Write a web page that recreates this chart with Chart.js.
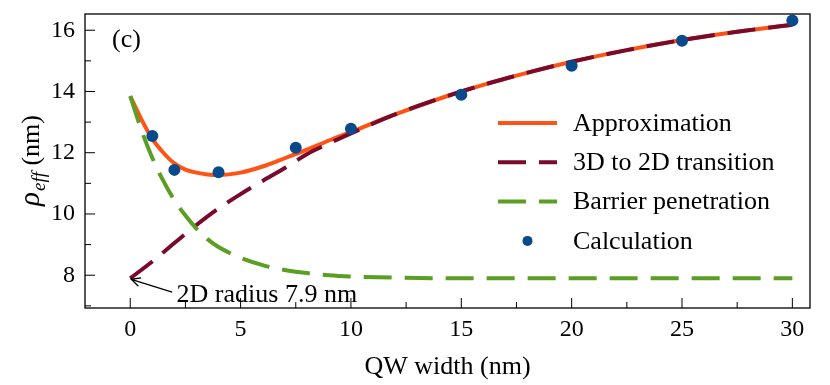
<!DOCTYPE html>
<html>
<head>
<meta charset="utf-8">
<style>
  html, body { margin: 0; padding: 0; background: #fff; }
</style>
<script src="https://cdn.jsdelivr.net/npm/chart.js@4/dist/chart.umd.min.js"></script>
</head>
<body>
<canvas id="grafico" width="830" height="385"></canvas>
<script>
// valores
const approxX = [0, 0.5, 1, 1.5, 2, 2.5, 3, 3.5, 4, 5, 6, 7, 8, 9, 10, 12, 15, 17.5, 20, 22.5, 25, 27.5, 30];
const approxY = [13.85, 13.1, 12.45, 12.0, 11.65, 11.45, 11.35, 11.29, 11.27, 11.35, 11.55, 11.82, 12.1, 12.4, 12.68, 13.25, 14.0, 14.52, 14.97, 15.35, 15.68, 15.95, 16.18];

const transX = [0, 1, 2, 3, 4, 5, 6, 7, 8, 9, 10, 12, 15, 17.5, 20, 22.5, 25, 27.5, 30];
const transY = [7.9, 8.45, 9.05, 9.64, 10.18, 10.65, 11.08, 11.5, 11.95, 12.3, 12.63, 13.25, 14.0, 14.52, 14.97, 15.35, 15.68, 15.95, 16.18];

const barrX = [0, 0.5, 1, 1.5, 2, 2.5, 3, 3.5, 4, 5, 6, 7, 8, 9, 10, 12, 15, 20, 25, 30];
const barrY = [13.85, 12.75, 11.83, 11.08, 10.45, 9.95, 9.52, 9.18, 8.92, 8.57, 8.33, 8.17, 8.07, 8.0, 7.96, 7.92, 7.9, 7.9, 7.9, 7.9];

const calcX = [1, 2, 4, 7.5, 10, 15, 20, 25, 30];
const calcY = [12.55, 11.44, 11.36, 12.16, 12.78, 13.89, 14.84, 15.66, 16.32];

const xMajor = [0, 5, 10, 15, 20, 25, 30];
const xMinor = [2.5, 7.5, 12.5, 17.5, 22.5, 27.5];
const yMajor = [8, 10, 12, 14, 16];
const yMinor = [7, 9, 11, 13, 15];

const cores = { approx: '#ff5316', trans: '#7a0a2b', barr: '#5b9e24', calc: '#0a4a8b' };
const traco = [28, 13];
const fonte = 'Liberation Serif';
const tamTexto = 26;
const tamTick = 24;

const pares = (xs, ys) => xs.map((v, i) => ({ x: v, y: ys[i] }));

const decoracao = {
    id: 'decoracao',
    afterDraw(chart) {
        const { ctx, chartArea: a, scales: { x, y } } = chart;
        ctx.save();

        // moldura
        ctx.strokeStyle = '#000';
        ctx.lineWidth = 1.3;
        ctx.strokeRect(a.left, a.top, a.right - a.left, a.bottom - a.top);

        // ticks para dentro
        ctx.lineWidth = 1;
        ctx.beginPath();
        xMajor.forEach(v => { const p = x.getPixelForValue(v); ctx.moveTo(p, a.bottom); ctx.lineTo(p, a.bottom - 10); });
        xMinor.forEach(v => { const p = x.getPixelForValue(v); ctx.moveTo(p, a.bottom); ctx.lineTo(p, a.bottom - 6); });
        yMajor.forEach(v => { const p = y.getPixelForValue(v); ctx.moveTo(a.left, p); ctx.lineTo(a.left + 10, p); });
        yMinor.forEach(v => { const p = y.getPixelForValue(v); ctx.moveTo(a.left, p); ctx.lineTo(a.left + 6, p); });
        ctx.stroke();

        ctx.fillStyle = '#000';
        ctx.textBaseline = 'alphabetic';
        ctx.textAlign = 'left';
        ctx.font = tamTexto + 'px "' + fonte + '"';
        ctx.fillText('(c)', a.left + 27, a.top + 33);

        // anotação com seta
        const tx = x.getPixelForValue(0), ty = y.getPixelForValue(7.9);
        ctx.fillText('2D radius 7.9 nm', x.getPixelForValue(2.1), y.getPixelForValue(7.12));
        const sx = x.getPixelForValue(1.9), sy = y.getPixelForValue(7.45);
        ctx.beginPath();
        ctx.moveTo(sx, sy);
        ctx.lineTo(tx + 1, ty + 1);
        const ang = Math.atan2(sy - ty, sx - tx);
        ctx.moveTo(tx + 1 + 10 * Math.cos(ang - 0.45), ty + 1 + 10 * Math.sin(ang - 0.45));
        ctx.lineTo(tx + 1, ty + 1);
        ctx.lineTo(tx + 1 + 10 * Math.cos(ang + 0.45), ty + 1 + 10 * Math.sin(ang + 0.45));
        ctx.lineWidth = 1.3;
        ctx.stroke();

        // legenda
        const itens = [
            { t: 'Approximation', c: cores.approx, d: [] },
            { t: '3D to 2D transition', c: cores.trans, d: traco },
            { t: 'Barrier penetration', c: cores.barr, d: traco },
            { t: 'Calculation', c: cores.calc, ponto: true }
        ];
        const lx0 = a.left + 413, lx1 = a.left + 472, txL = a.left + 488;
        ctx.textBaseline = 'middle';
        itens.forEach((it, i) => {
            const ly = a.top + 109 + i * 39.3;
            if (it.ponto) {
                ctx.fillStyle = it.c;
                ctx.beginPath();
                ctx.arc((lx0 + lx1) / 2, ly, 5, 0, Math.PI * 2);
                ctx.fill();
            } else {
                ctx.strokeStyle = it.c;
                ctx.lineWidth = 4;
                ctx.setLineDash(it.d);
                ctx.beginPath();
                ctx.moveTo(lx0, ly);
                ctx.lineTo(lx1, ly);
                ctx.stroke();
                ctx.setLineDash([]);
            }
            ctx.fillStyle = '#000';
            ctx.fillText(it.t, txL, ly + 1);
        });

        // título do eixo y: rho_eff (nm)
        ctx.translate(39, (a.top + a.bottom) / 2);
        ctx.rotate(-Math.PI / 2);
        ctx.textBaseline = 'alphabetic';
        const fRho = 'italic 29px "' + fonte + '"';
        const fSub = 'italic 19px "' + fonte + '"';
        const fNm = tamTexto + 'px "' + fonte + '"';
        ctx.font = fRho; const w1 = ctx.measureText('\u03C1').width;
        ctx.font = fSub; const w2 = ctx.measureText('eff').width;
        ctx.font = fNm; const w3 = ctx.measureText(' (nm)').width;
        let px = -(w1 + w2 + w3) / 2;
        ctx.font = fRho; ctx.fillText('\u03C1', px, 0); px += w1 + 1;
        ctx.font = fSub; ctx.fillText('eff', px, 6); px += w2;
        ctx.font = fNm; ctx.fillText(' (nm)', px, 0);

        ctx.restore();
    }
};

const ctx = document.getElementById('grafico').getContext('2d');

const grafico = new Chart(ctx, {
    type: 'line',
    data: {
        datasets: [
            {
                label: 'Calculation',
                data: pares(calcX, calcY),
                showLine: false,
                pointRadius: 6,
                pointBackgroundColor: cores.calc,
                pointBorderWidth: 0,
                order: 0
            },
            {
                label: 'Barrier penetration',
                data: pares(barrX, barrY),
                borderColor: cores.barr,
                borderWidth: 4,
                borderDash: traco,
                pointRadius: 0,
                cubicInterpolationMode: 'monotone',
                fill: false,
                order: 1
            },
            {
                label: '3D to 2D transition',
                data: pares(transX, transY),
                borderColor: cores.trans,
                borderWidth: 4,
                borderDash: traco,
                pointRadius: 0,
                cubicInterpolationMode: 'monotone',
                fill: false,
                order: 2
            },
            {
                label: 'Approximation',
                data: pares(approxX, approxY),
                borderColor: cores.approx,
                borderWidth: 4,
                pointRadius: 0,
                cubicInterpolationMode: 'monotone',
                fill: false,
                order: 3
            }
        ]
    },
    options: {
        responsive: false,
        animation: false,
        layout: { padding: { left: 0, right: 20, top: 14, bottom: 0 } },
        plugins: { legend: { display: false }, tooltip: { enabled: false } },
        scales: {
            x: {
                type: 'linear',
                min: -2.05,
                max: 30.8,
                grid: { display: false, drawTicks: false },
                border: { display: false },
                ticks: {
                    stepSize: 5,
                    includeBounds: false,
                    maxRotation: 0,
                    padding: 7,
                    color: '#000',
                    font: { family: fonte, size: tamTick }
                },
                title: {
                    display: true,
                    text: 'QW width (nm)',
                    color: '#000',
                    font: { family: fonte, size: tamTexto },
                    padding: { top: 0, bottom: 2 }
                },
                afterFit: s => { s.height = 77; s.paddingLeft = 0; s.paddingRight = 0; }
            },
            y: {
                min: 6.93,
                max: 16.53,
                grid: { display: false, drawTicks: false },
                border: { display: false },
                ticks: {
                    stepSize: 2,
                    includeBounds: false,
                    padding: 10,
                    color: '#000',
                    font: { family: fonte, size: tamTick }
                },
                afterFit: s => { s.width = 85; s.paddingTop = 0; s.paddingBottom = 0; }
            }
        }
    },
    plugins: [decoracao]
});
</script>
</body>
</html>
